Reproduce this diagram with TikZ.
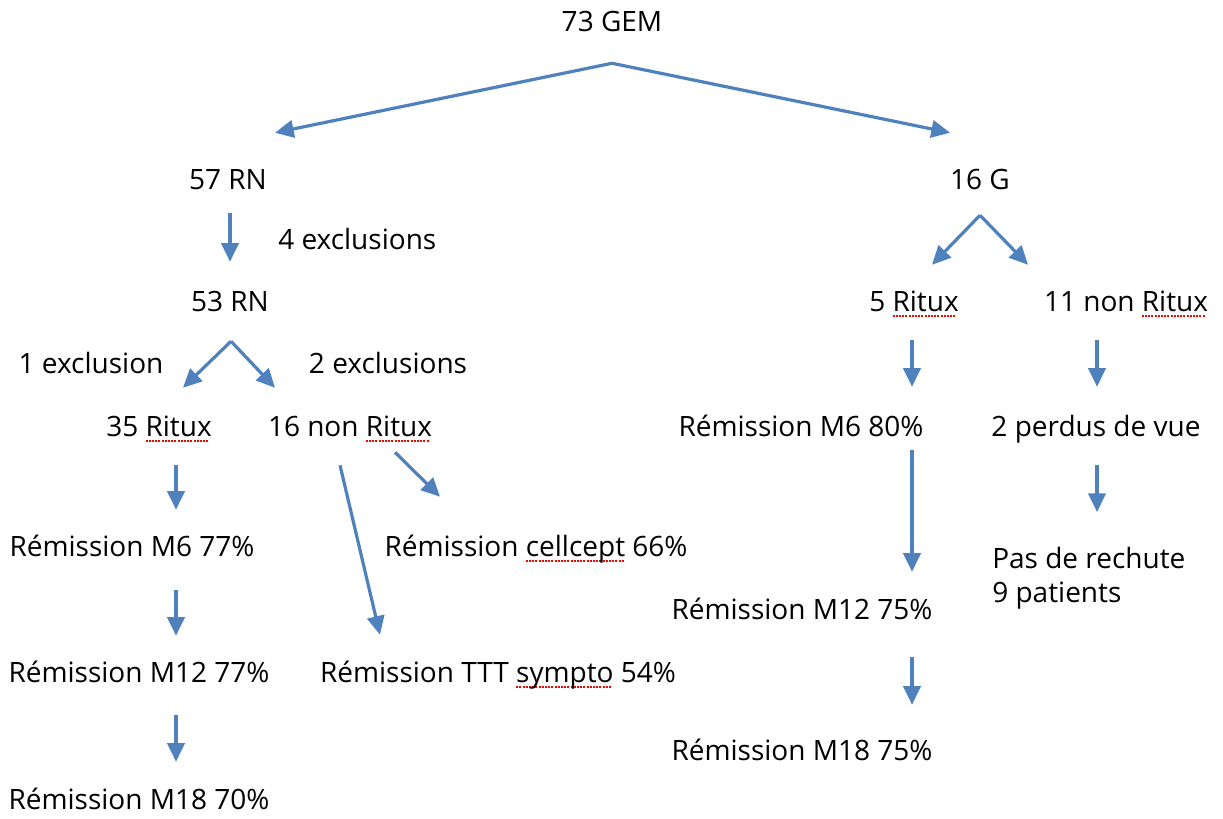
\documentclass[tikz,border=0pt]{standalone}
\usepackage{fontspec}
\setmainfont{Open Sans}
\usetikzlibrary{arrows.meta,positioning}
\definecolor{flowblue}{RGB}{79,129,189}
% red dotted spell-check line under a word
\newcommand{\typo}[1]{\setbox0\hbox{#1}\rlap{\lower3.8pt\hbox to \wd0{\color{red}\leaders\hbox{\rule{1.5pt}{1.4pt}\kern0.9pt}\hfill}}\box0\relax}
\tikzset{
x=0.75pt, y=-0.75pt, % one unit is one pixel of the slide, y goes down
>={Triangle[length=14pt,width=13pt]}, % bold filled arrow heads
every node/.style={font=\fontsize{21}{25.5}\selectfont, inner sep=0pt, text height=14pt, text depth=4pt},
flow/.style={->, draw=flowblue, line width=2.4pt, color=flowblue}, % the blue arrows
}
\begin{document}
\begin{tikzpicture}
\useasboundingbox (0,0) rectangle (1223,818);
\node (gem) at (612,25) {73 GEM};
\node (rn57) at (228,183) {57 RN};
\node (g16) at (980,183) {16 G};
\node[anchor=west] (excl4) at (278,243) {4 exclusions};
\node (rn53) at (230,305) {53 RN};
\node (excl1) at (91,367) {1 exclusion};
\node (excl2) at (388,367) {2 exclusions};
\node (ritux35) at (159,430) {35 \typo{Ritux}};
\node (nonritux16) at (350,430) {16 non \typo{Ritux}};
\node (remM6a) at (132,550) {Rémission M6 77\%};
\node (cellcept) at (536,550) {Rémission \typo{cellcept} 66\%};
\node (remM12a) at (139,676) {Rémission M12 77\%};
\node (sympto) at (498,676) {Rémission TTT \typo{sympto} 54\%};
\node (remM18a) at (139,803) {Rémission M18 70\%};
\node (ritux5) at (914,305) {5 \typo{Ritux}};
\node (nonritux11) at (1126,305) {11 non \typo{Ritux}};
\node (remM6b) at (801,430) {Rémission M6 80\%};
\node (perdus) at (1096,430) {2 perdus de vue};
\node (remM12b) at (802,613) {Rémission M12 75\%};
\node[anchor=north west, align=left, text height=] (rechute) at (992,547) {Pas de rechute\\9 patients};
\node (remM18b) at (802,754) {Rémission M18 75\%};

% forks
\coordinate (gemfork) at ([shift={(0,26)}]gem.south);
\coordinate (rn53fork) at ([shift={(1,24)}]rn53.south);
\coordinate (g16fork) at ([shift={(0,20)}]g16.south);

\draw[flow] (gemfork) -- ([shift={(47,-38)}]rn57.north);
\draw[flow] (gemfork) -- ([shift={(-30,-38)}]g16.north);
\draw[flow] ([shift={(2,18)}]rn57.south) -- ([shift={(0,-31)}]rn53.north);
\draw[flow] (rn53fork) -- ([shift={(24,-30)}]ritux35.north);
\draw[flow] (rn53fork) -- ([shift={(-75,-30)}]nonritux16.north);
\draw[flow] (g16fork) -- ([shift={(18,-28)}]ritux5.north);
\draw[flow] (g16fork) -- ([shift={(-98,-28)}]nonritux11.north);

% left branch
\draw[flow] ([shift={(17,23)}]ritux35.south) -- ([shift={(44,-28)}]remM6a.north);
\draw[flow] ([shift={(44,28)}]remM6a.south) -- ([shift={(37,-28)}]remM12a.north);
\draw[flow] ([shift={(37,27)}]remM12a.south) -- ([shift={(37,-29)}]remM18a.north);
\draw[flow] ([shift={(-10,23)}]nonritux16.south) -- ([shift={(-118,-29)}]sympto.north);
\draw[flow] ([shift={(45,10)}]nonritux16.south) -- ([shift={(-96,-41)}]cellcept.north);

% right branch
\draw[flow] ([shift={(-2,23)}]ritux5.south) -- ([shift={(111,-31)}]remM6b.north);
\draw[flow] ([shift={(-29,23)}]nonritux11.south) -- ([shift={(1,-31)}]perdus.north);
\draw[flow] ([shift={(111,8)}]remM6b.south) -- ([shift={(110,-29)}]remM12b.north);
\draw[flow] ([shift={(110,32)}]remM12b.south) -- ([shift={(110,-37)}]remM18b.north);
\draw[flow] ([shift={(1,23)}]perdus.south) -- ([shift={(105,-35)}]rechute.north west);
\end{tikzpicture}
\end{document}
